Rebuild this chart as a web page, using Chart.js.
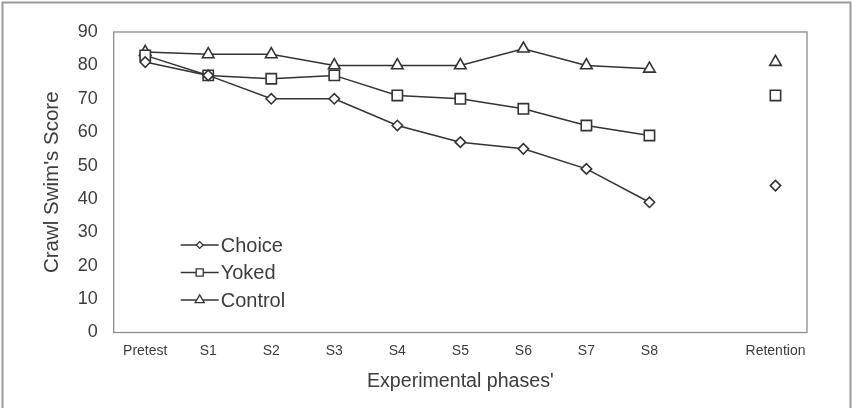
<!DOCTYPE html>
<html>
<head>
<meta charset="utf-8">
<script src="https://cdn.jsdelivr.net/npm/chart.js@4/dist/chart.umd.min.js"></script>
<style>
  html, body { margin: 0; padding: 0; background: #fff; }
  #wrap { position: relative; width: 857px; height: 408px; }
</style>
</head>
<body>
<div id="wrap"><canvas id="c" width="857" height="408"></canvas></div>
<script>
const categories = ['Pretest', 'S1', 'S2', 'S3', 'S4', 'S5', 'S6', 'S7', 'S8', '', 'Retention'];
const choiceScores  = [81, 77, 70, 70, 62, 57, 55, 49, 39, null, 44];
const yokedScores   = [83, 77, 76, 77, 71, 70, 67, 62, 59, null, 71];
const controlScores = [84, 83.3, 83.3, 80, 80, 80, 85, 80, 79, null, 81];
const yTicks = [0, 10, 20, 30, 40, 50, 60, 70, 80, 90];
const seriesNames = ['Choice', 'Yoked', 'Control'];

const LINE = '#333333';
const TEXT = '#3c3c3c';
const FONT = "'Liberation Sans', Arial, sans-serif";

function ds(label, data, style, radius) {
  return {
    label, data,
    borderColor: LINE, borderWidth: 1.5,
    pointStyle: style, pointRadius: radius, pointHoverRadius: radius,
    pointBackgroundColor: '#fff', pointBorderColor: LINE, pointBorderWidth: 1.6,
    spanGaps: false, tension: 0, fill: false
  };
}

function marker(ctx, style, x, y, r) {
  ctx.beginPath();
  if (style === 'rectRot') {
    ctx.moveTo(x - r, y); ctx.lineTo(x, y - r); ctx.lineTo(x + r, y); ctx.lineTo(x, y + r);
    ctx.closePath();
  } else if (style === 'rect') {
    const s = Math.SQRT1_2 * r;
    ctx.rect(x - s, y - s, 2 * s, 2 * s);
  } else {
    ctx.moveTo(x, y - r);
    ctx.lineTo(x + r * Math.sin(2 * Math.PI / 3), y - r * Math.cos(2 * Math.PI / 3));
    ctx.lineTo(x + r * Math.sin(4 * Math.PI / 3), y - r * Math.cos(4 * Math.PI / 3));
    ctx.closePath();
  }
  ctx.fill(); ctx.stroke();
}

const framePlugin = {
  id: 'frame',
  beforeDatasetsDraw(chart) {
    const { ctx, chartArea: a } = chart;
    ctx.save();
    ctx.strokeStyle = '#8c8c8c';
    ctx.lineWidth = 1.3;
    ctx.strokeRect(a.left, a.top, a.right - a.left, a.bottom - a.top);
    ctx.restore();
  },
  afterDraw(chart) {
    const { ctx, chartArea: a } = chart;
    ctx.save();
    // outer image frame
    ctx.strokeStyle = '#9a9a9a';
    ctx.lineWidth = 2;
    ctx.beginPath();
    ctx.moveTo(2.5, 410); ctx.lineTo(2.5, 2.5); ctx.lineTo(850.5, 2.5); ctx.lineTo(850.5, 410);
    ctx.stroke();
    // legend inside plot
    const styles = ['rectRot', 'rect', 'triangle'];
    const radii = [3.4, 5, 5.2];
    const x0 = a.left + 67, y0 = a.top + 213, step = 27.5;
    ctx.font = '20px ' + FONT;
    ctx.textBaseline = 'middle';
    ctx.textAlign = 'left';
    seriesNames.forEach((name, i) => {
      const y = y0 + i * step;
      ctx.strokeStyle = LINE; ctx.lineWidth = 1.3;
      ctx.beginPath(); ctx.moveTo(x0, y); ctx.lineTo(x0 + 38, y); ctx.stroke();
      ctx.fillStyle = '#fff';
      marker(ctx, styles[i], x0 + 19, y, radii[i]);
      ctx.fillStyle = TEXT;
      ctx.fillText(name, x0 + 40, y + 1);
    });
    ctx.restore();
  }
};

new Chart(document.getElementById('c'), {
  type: 'line',
  data: {
    labels: categories,
    datasets: [
      ds(seriesNames[0], choiceScores, 'rectRot', 5.2),
      ds(seriesNames[1], yokedScores, 'rect', 7.3),
      ds(seriesNames[2], controlScores, 'triangle', 6.7)
    ]
  },
  options: {
    responsive: false,
    animation: false,
    layout: { padding: { left: 0, right: 50, top: 32, bottom: 0 } },
    plugins: { legend: { display: false }, tooltip: { enabled: false } },
    scales: {
      x: {
        type: 'category',
        offset: true,
        grid: { display: false, drawTicks: false },
        border: { display: false },
        ticks: { color: TEXT, font: { family: FONT, size: 14 }, padding: 10, maxRotation: 0, autoSkip: false },
        title: { display: true, text: "Experimental phases'", color: TEXT, font: { family: FONT, size: 19.6 }, padding: { top: 0, bottom: 14.4 } },
        afterFit(s) { s.height = 75.5; }
      },
      y: {
        min: 0, max: 90,
        afterBuildTicks(s) { s.ticks = yTicks.map(v => ({ value: v })); },
        grid: { display: false, drawTicks: false },
        border: { display: false },
        ticks: { color: TEXT, font: { family: FONT, size: 18 }, padding: 16 },
        title: { display: true, text: "Crawl Swim's Score", color: TEXT, font: { family: FONT, size: 20.5 }, padding: { top: 40.5, bottom: 0 } },
        afterFit(s) { s.width = 113.7; }
      }
    }
  },
  plugins: [framePlugin]
});
</script>
</body>
</html>
